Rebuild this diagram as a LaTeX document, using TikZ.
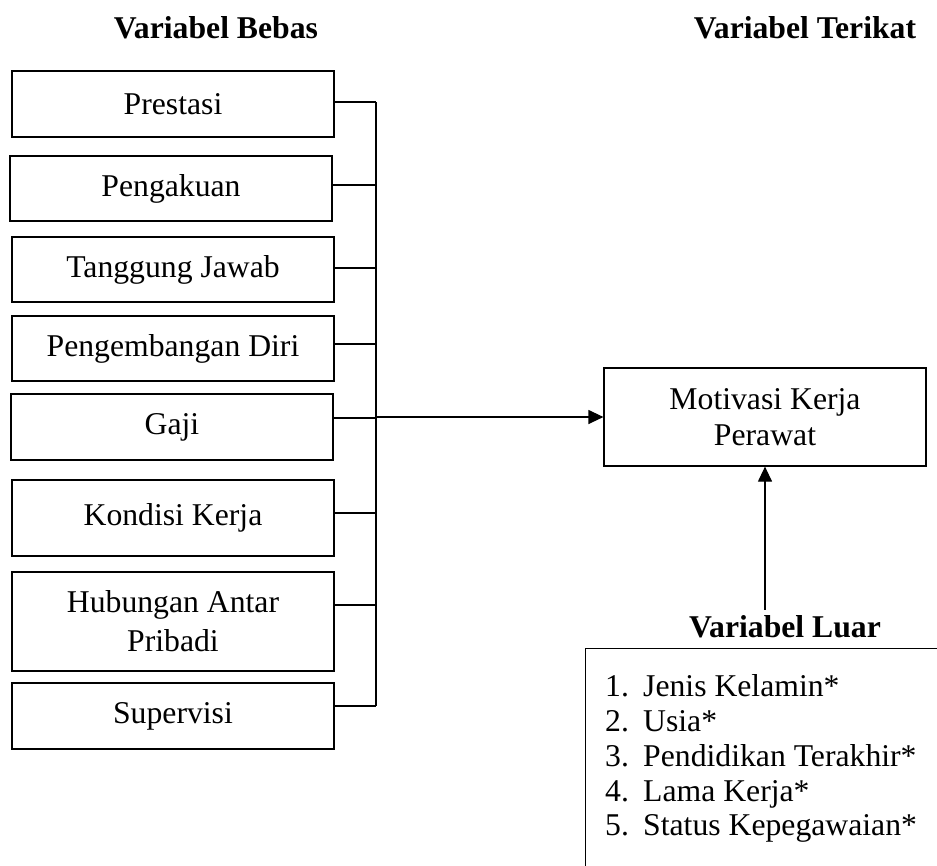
\documentclass[tikz,border=0pt]{standalone}
\usepackage{fontspec}
\setmainfont{Liberation Serif}
\usetikzlibrary{arrows.meta}
\begin{document}
\begin{tikzpicture}[x=1pt,y=-1pt,
  every node/.style={font=\fontsize{31.7}{36}\selectfont},
  vbox/.style={draw,line width=1.2pt,minimum width=322pt,inner sep=0pt,align=center},
  titletext/.style={font=\fontsize{31.7}{36}\selectfont\bfseries,inner sep=0pt},
  itemtext/.style={anchor=base west,inner sep=0pt},
  conn/.style={line width=1.2pt},
  arr/.style={conn,-{Triangle[length=15pt,width=14pt]}}]
\useasboundingbox (0,0) rectangle (937,865);
\clip (0,0) rectangle (937,865);

% titles
\node[titletext] (bebas) at (216,28) {Variabel Bebas};
\node[titletext] (terikat) at (805,28) {Variabel Terikat};

% left boxes
\node[vbox,minimum height=66pt] (prestasi) at (173,104) {Prestasi};
\node[vbox,minimum height=65pt] (pengakuan) at (171,188.5) {Pengakuan};
\node[vbox,minimum height=65pt] (tanggung) at (173,269.5) {Tanggung Jawab};
\node[vbox,minimum height=65pt] (pengembangan) at (173,348.5) {Pengembangan Diri};
\node[vbox,minimum height=66pt] (gaji) at (172,427) {Gaji};
\node[vbox,minimum height=76pt] (kondisi) at (173,518) {Kondisi Kerja};
\node[vbox,minimum height=99pt,font=\fontsize{31.7}{39}\selectfont] (hubungan) at (173,621.5) {Hubungan Antar\\Pribadi};
\node[vbox,minimum height=66pt] (supervisi) at (173,716) {Supervisi};

% bus
\coordinate (bustop) at (376,102);
\coordinate (busbot) at (376,706);
\draw[conn] (bustop) -- (busbot);
\foreach \n/\s in {prestasi/2,pengakuan/3.5,tanggung/1.5,pengembangan/4.5,gaji/9,kondisi/5,hubungan/16.5,supervisi/10}
  \draw[conn] ([yshift=\s pt]\n.east) -- ([yshift=\s pt]\n.east -| bustop);

% dependent variable
\node[vbox,minimum height=98pt] (motivasi) at (765,417) {Motivasi Kerja\\Perawat};
\draw[arr] (bustop |- motivasi.west) -- (motivasi.west);

% external variables
\node[titletext] (luar) at (785,627) {Variabel Luar};
\draw[arr] ([yshift=6pt]luar.north -| motivasi.south) -- (motivasi.south);
\node[draw,line width=1.2pt,anchor=north west,minimum width=400pt,minimum height=260pt] (luarbox) at (585,648) {};

\node[itemtext] (n1) at (605,696) {1.};
\node[itemtext] (t1) at (643,696) {Jenis Kelamin*};
\node[itemtext] (n2) at (605,731) {2.};
\node[itemtext] (t2) at (643,731) {Usia*};
\node[itemtext] (n3) at (605,766) {3.};
\node[itemtext] (t3) at (643,766) {Pendidikan Terakhir*};
\node[itemtext] (n4) at (605,801) {4.};
\node[itemtext] (t4) at (643,801) {Lama Kerja*};
\node[itemtext] (n5) at (605,835) {5.};
\node[itemtext] (t5) at (643,835) {Status Kepegawaian*};
\end{tikzpicture}
\end{document}
